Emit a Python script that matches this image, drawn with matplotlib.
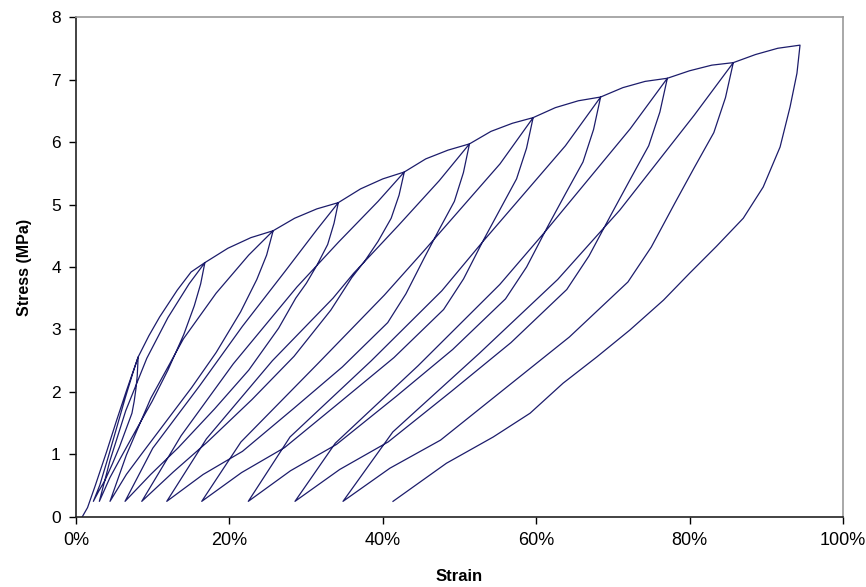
import numpy as np
import matplotlib.pyplot as plt

# values: strain in %, stress in MPa
peak_strain = [8.1, 16.8, 25.7, 34.2, 42.8, 51.3, 59.6, 68.4, 77.1, 85.7, 94.4]
peak_stress = [2.56, 4.07, 4.58, 5.03, 5.52, 5.97, 6.39, 6.72, 7.02, 7.27, 7.55]

# first loading, from the origin up to the first peak
first_strain = [0.8, 1.5, 2.5, 4.0, 5.3, 6.6]
first_stress = [0.0, 0.15, 0.50, 1.05, 1.55, 2.03]

# unloading branches (peak -> valley)
unload_strain = [
    [8.1, 7.98, 7.81, 7.58, 7.29, 6.54, 5.66, 4.74, 3.75, 2.99, 2.26],
    [16.8, 16.25, 15.42, 14.05, 11.98, 9.92, 7.86, 5.79, 4.42, 3.04],
    [25.7, 24.85, 23.57, 21.45, 18.26, 15.07, 11.87, 8.68, 6.56, 4.43],
    [34.2, 33.64, 32.81, 31.42, 30.03, 28.64, 26.41, 22.52, 18.07, 13.34, 9.73, 6.39],
    [42.8, 42.12, 41.09, 39.38, 37.67, 35.95, 33.22, 28.42, 22.95, 17.13, 12.68, 8.57],
    [51.3, 50.51, 49.33, 47.35, 45.38, 43.01, 40.64, 34.72, 28.41, 21.70, 16.57, 11.83],
    [59.6, 58.74, 57.44, 55.28, 53.12, 50.53, 47.93, 41.45, 34.54, 27.19, 21.58, 16.39],
    [68.4, 67.48, 66.10, 63.81, 61.51, 58.75, 56.00, 49.11, 41.75, 33.95, 27.97, 22.46],
    [77.1, 76.13, 74.67, 72.25, 69.82, 66.90, 63.99, 56.71, 48.94, 40.69, 34.38, 28.55],
    [85.7, 84.68, 83.16, 80.61, 78.07, 75.01, 71.96, 64.33, 56.18, 47.53, 40.92, 34.81],
    [94.4, 94.0, 93.1, 91.8, 89.6, 87.0, 83.5, 80.0, 76.6, 72.2, 67.9, 63.5,
     59.2, 54.4, 48.3, 41.33],
]
unload_stress = [
    [2.56, 2.26, 2.05, 1.85, 1.66, 1.41, 1.12, 0.85, 0.58, 0.42, 0.25],
    [4.07, 3.73, 3.38, 2.92, 2.35, 1.85, 1.40, 0.94, 0.63, 0.25],
    [4.58, 4.19, 3.80, 3.28, 2.63, 2.07, 1.55, 1.03, 0.68, 0.25],
    [5.03, 4.70, 4.36, 4.03, 3.74, 3.50, 3.02, 2.35, 1.73, 1.11, 0.68, 0.25],
    [5.52, 5.15, 4.78, 4.41, 4.10, 3.83, 3.31, 2.57, 1.88, 1.20, 0.72, 0.25],
    [5.97, 5.51, 5.05, 4.60, 4.14, 3.57, 3.11, 2.40, 1.74, 1.05, 0.68, 0.25],
    [6.39, 5.90, 5.41, 4.92, 4.43, 3.81, 3.32, 2.55, 1.85, 1.11, 0.71, 0.25],
    [6.72, 6.20, 5.68, 5.17, 4.65, 4.00, 3.49, 2.68, 1.93, 1.16, 0.74, 0.25],
    [7.02, 6.48, 5.94, 5.40, 4.85, 4.18, 3.64, 2.79, 2.01, 1.20, 0.76, 0.25],
    [7.27, 6.71, 6.15, 5.59, 5.02, 4.32, 3.76, 2.88, 2.08, 1.23, 0.78, 0.25],
    [7.55, 7.10, 6.56, 5.92, 5.28, 4.78, 4.33, 3.90, 3.47, 2.99, 2.56, 2.14,
     1.66, 1.28, 0.86, 0.25],
]

# reloading branches (valley -> previous peak)
reload_strain = [
    [2.26, 3.10, 4.20, 5.30, 6.40, 7.40],
    [3.04, 4.42, 6.48, 9.23, 11.98, 14.74],
    [4.43, 6.56, 9.75, 14.00, 18.26, 22.51],
    [6.39, 10.00, 16.12, 21.69, 27.25, 31.42],
    [8.57, 13.70, 20.50, 28.80, 34.24, 39.38],
    [11.83, 17.00, 25.60, 33.50, 36.20, 42.00, 47.35],
    [16.39, 21.50, 31.50, 40.20, 45.30, 55.28],
    [22.46, 27.90, 38.50, 47.70, 53.00, 63.81],
    [28.55, 33.80, 44.60, 55.25, 61.20, 72.25],
    [34.81, 41.30, 52.60, 62.80, 70.90, 80.61],
]
reload_stress = [
    [0.25, 0.51, 0.96, 1.43, 1.90, 2.30],
    [0.25, 0.90, 1.70, 2.54, 3.19, 3.73],
    [0.25, 0.99, 1.90, 2.85, 3.58, 4.19],
    [0.25, 1.10, 2.10, 3.05, 3.93, 4.60],
    [0.25, 1.30, 2.45, 3.68, 4.40, 5.05],
    [0.25, 1.25, 2.50, 3.50, 3.90, 4.66, 5.38],
    [0.25, 1.20, 2.45, 3.55, 4.25, 5.65],
    [0.25, 1.28, 2.50, 3.62, 4.40, 5.94],
    [0.25, 1.18, 2.42, 3.72, 4.57, 6.21],
    [0.25, 1.36, 2.62, 3.80, 4.91, 6.43],
]

# envelope between one peak and the next
env_strain = [
    [9.5, 10.9, 13.2, 15.0], [19.8, 22.8], [28.5, 31.4], [37.1, 40.0], [45.6, 48.5],
    [54.1, 56.9], [62.5, 65.5], [71.3, 74.2], [80.0, 82.9], [88.6, 91.5],
]
env_stress = [
    [2.90, 3.20, 3.63, 3.92], [4.30, 4.47], [4.78, 4.93], [5.25, 5.41], [5.73, 5.87],
    [6.17, 6.30], [6.55, 6.66], [6.87, 6.97], [7.14, 7.23], [7.40, 7.50],
]

# stitch the whole test into one trace
xs = list(first_strain)
ys = list(first_stress)
for k in range(len(peak_strain)):
    xs += unload_strain[k]
    ys += unload_stress[k]
    if k < len(reload_strain):
        xs += reload_strain[k] + [peak_strain[k]] + env_strain[k]
        ys += reload_stress[k] + [peak_stress[k]] + env_stress[k]

fig = plt.figure(figsize=(8.66, 5.87), dpi=100)
ax = fig.add_axes([0.0878, 0.1193, 0.8856, 0.8517])

ax.plot(xs, ys, color="#1c1c6b", lw=0.9)

ax.set_xlim(0, 100)
ax.set_ylim(0, 8)
ax.set_xticks(np.arange(0, 101, 20))
ax.set_xticklabels([f"{v}%" for v in range(0, 101, 20)], family="Liberation Sans", fontsize=13)
ax.set_yticks(np.arange(0, 9, 1))
ax.set_yticklabels([str(v) for v in range(9)], family="Liberation Sans", fontsize=12.5)
ax.tick_params(direction="out", length=5, width=1, color="black", pad=6)

for side in ["left", "bottom"]:
    ax.spines[side].set_color("#222222")
    ax.spines[side].set_linewidth(1.2)
for side in ["top", "right"]:
    ax.spines[side].set_color("#999999")
    ax.spines[side].set_linewidth(1.2)

ax.set_xlabel("Strain", family="Liberation Sans", fontsize=12, fontweight="bold", labelpad=14)
ax.set_ylabel("Stress (MPa)", family="Liberation Sans", fontsize=11.5, fontweight="bold", labelpad=14)

fig.savefig("out.png", dpi=100)
